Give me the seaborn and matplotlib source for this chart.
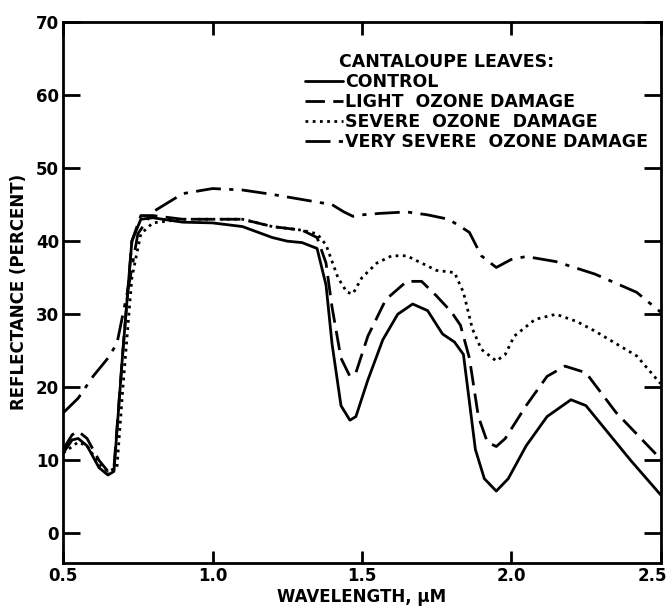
import matplotlib
matplotlib.use("Agg")
import matplotlib.pyplot as plt
import matplotlib.transforms as mtransforms
import seaborn as sns
import pandas as pd

# wavelength (um) / reflectance (%)
control_wl = [0.50, 0.53, 0.55, 0.58, 0.62, 0.65, 0.67, 0.70, 0.73, 0.76, 0.80, 0.90, 1.00, 1.10,
              1.20, 1.25, 1.30, 1.35, 1.38, 1.40, 1.43, 1.46, 1.48, 1.52, 1.57, 1.62, 1.67, 1.72,
              1.77, 1.81, 1.84, 1.86, 1.88, 1.91, 1.95, 1.99, 2.05, 2.12, 2.20, 2.25, 2.30, 2.40, 2.50]
control_r = [11.0, 12.8, 13.0, 12.0, 9.0, 8.0, 8.5, 25.0, 40.0, 43.0, 43.2, 42.6, 42.5, 42.0,
             40.5, 40.0, 39.8, 39.0, 34.0, 26.0, 17.5, 15.5, 16.0, 21.0, 26.5, 30.0, 31.4, 30.5,
             27.3, 26.2, 24.5, 18.0, 11.5, 7.5, 5.8, 7.5, 12.0, 16.0, 18.3, 17.5, 15.0, 10.0, 5.3]

light_wl = [0.50, 0.53, 0.55, 0.58, 0.62, 0.65, 0.67, 0.70, 0.73, 0.76, 0.80, 0.90, 1.00, 1.10,
            1.20, 1.30, 1.35, 1.38, 1.40, 1.43, 1.46, 1.48, 1.52, 1.58, 1.65, 1.70, 1.75, 1.80,
            1.83, 1.86, 1.89, 1.92, 1.95, 1.98, 2.05, 2.12, 2.18, 2.25, 2.35, 2.50]
light_r = [11.5, 13.5, 14.0, 13.0, 10.0, 8.5, 9.0, 25.0, 40.0, 43.5, 43.5, 43.0, 43.0, 43.0,
           42.0, 41.5, 40.5, 37.0, 31.0, 24.0, 21.5, 22.0, 27.0, 32.0, 34.5, 34.5, 32.5, 30.3,
           28.5, 24.0, 16.0, 12.5, 11.9, 13.0, 17.5, 21.5, 22.9, 22.0, 16.6, 10.2]

severe_wl = [0.50, 0.55, 0.58, 0.62, 0.65, 0.68, 0.70, 0.73, 0.76, 0.80, 0.90, 1.00, 1.10, 1.20,
             1.30, 1.35, 1.38, 1.42, 1.45, 1.47, 1.50, 1.55, 1.60, 1.65, 1.70, 1.75, 1.81, 1.84,
             1.87, 1.90, 1.95, 1.98, 2.01, 2.08, 2.15, 2.22, 2.28, 2.35, 2.42, 2.50]
severe_r = [11.0, 12.5, 12.0, 9.5, 8.5, 9.0, 20.0, 35.0, 41.0, 42.5, 43.0, 43.0, 43.0, 42.0,
            41.5, 41.0, 39.5, 35.0, 33.0, 32.8, 35.0, 37.0, 38.0, 38.0, 37.0, 36.0, 35.7, 33.0,
            28.0, 25.2, 23.6, 24.5, 27.0, 29.3, 30.0, 29.0, 27.7, 26.0, 24.3, 20.5]

vsevere_wl = [0.50, 0.55, 0.60, 0.65, 0.68, 0.70, 0.72, 0.75, 0.80, 0.90, 1.00, 1.10, 1.20, 1.30,
              1.40, 1.44, 1.47, 1.50, 1.56, 1.65, 1.72, 1.79, 1.83, 1.86, 1.90, 1.95, 2.00, 2.05,
              2.15, 2.28, 2.42, 2.50]
vsevere_r = [16.5, 18.5, 21.5, 24.0, 26.0, 30.0, 34.0, 41.0, 44.0, 46.5, 47.2, 47.0, 46.4, 45.7,
             45.0, 44.0, 43.4, 43.6, 43.8, 44.0, 43.6, 43.0, 42.0, 41.2, 38.0, 36.4, 37.5, 37.9,
             37.2, 35.5, 33.0, 30.3]

series_names = ["CONTROL", "LIGHT  OZONE DAMAGE", "SEVERE  OZONE  DAMAGE", "VERY SEVERE  OZONE DAMAGE"]
series_data = [(control_wl, control_r), (light_wl, light_r), (severe_wl, severe_r), (vsevere_wl, vsevere_r)]
line_styles = ["-", (0, (7, 3)), (0, (1, 1.6)), (0, (9, 3, 1.5, 3))]

sns.set_style("ticks")
plt.rcParams["font.family"] = ["DejaVu Sans"]
plt.rcParams["font.weight"] = "bold"
plt.rcParams["text.color"] = "black"
plt.rcParams["axes.labelcolor"] = "black"
plt.rcParams["xtick.color"] = "black"
plt.rcParams["ytick.color"] = "black"
plt.rcParams["axes.edgecolor"] = "black"

fig = plt.figure(figsize=(6.72, 6.09), dpi=100)
ax = fig.add_axes([0.094, 0.076, 0.889, 0.888])

for name, (wl, r), ls in zip(series_names, series_data, line_styles):
    df = pd.DataFrame({"wl": wl, "r": r})
    sns.lineplot(data=df, x="wl", y="r", ax=ax, color="black", linestyle=ls,
                 linewidth=2.0, label=name, estimator=None, sort=False)

ax.set_xlim(0.5, 2.5)
ax.set_ylim(-4, 70)
ax.set_xticks([0.5, 1.0, 1.5, 2.0, 2.5])
ax.set_xticklabels(["0.5", "1.0", "1.5", "2.0", "2.5"])
ax.set_yticks([0, 10, 20, 30, 40, 50, 60, 70])
ax.tick_params(axis="both", direction="in", width=2, labelsize=12, pad=3,
               top=True, right=True, colors="black")
ax.tick_params(axis="y", length=12)
ax.tick_params(axis="x", length=9)
for lab in ax.get_xticklabels() + ax.get_yticklabels():
    lab.set_fontweight("bold")
# keep the last x label inside the figure
last = ax.get_xticklabels()[-1]
last.set_transform(last.get_transform() + mtransforms.ScaledTranslation(-8 / 100, 0, fig.dpi_scale_trans))
for sp in ax.spines.values():
    sp.set_linewidth(2)

ax.set_xlabel("WAVELENGTH, \u03bcM", fontsize=12, fontweight="bold", labelpad=2)
ax.set_ylabel("REFLECTANCE (PERCENT)", fontsize=12, fontweight="bold", labelpad=6)

leg = ax.legend(loc="upper right", bbox_to_anchor=(1.0, 0.965), frameon=False,
                title="CANTALOUPE LEAVES:          ", fontsize=12.5, title_fontsize=12.5,
                handlelength=2.2, handletextpad=0.15, labelspacing=0.12, alignment="center",
                borderpad=0.2)
leg.get_title().set_fontweight("bold")
for t in leg.get_texts():
    t.set_fontweight("bold")

fig.savefig("out.png", dpi=100)
